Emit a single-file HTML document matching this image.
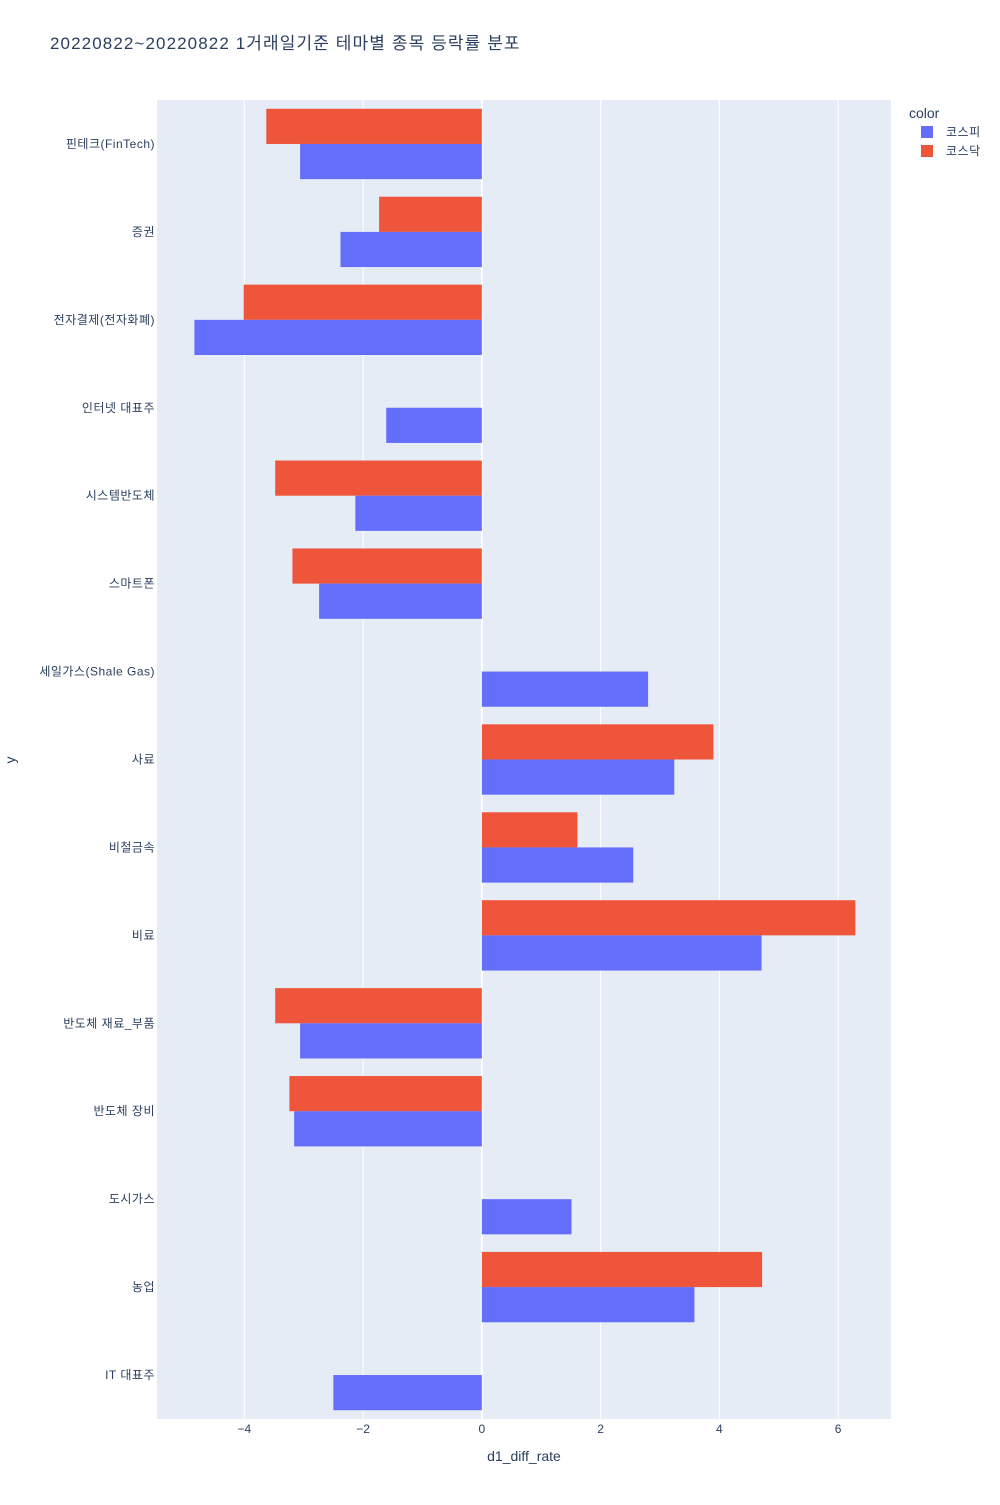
<!DOCTYPE html>
<html><head><meta charset="utf-8">
<style>
body{margin:0;background:#fff;}
svg text{font-family:"Liberation Sans","Noto Sans CJK KR",sans-serif;fill:#2a3f5f;}
</style></head>
<body>
<svg id="chart" width="1000" height="1500" xmlns="http://www.w3.org/2000/svg">
<text x="50" y="49" font-size="17" letter-spacing="1.1">20220822~20220822 1거래일기준 테마별 종목 등락률 분포</text>
<rect x="157" y="100" width="734" height="1319" fill="#e5ecf6"/>
<g id="grid"></g>
<g id="bars"></g>
<g id="yticks"></g>
<g id="xticks"></g>
<text x="524" y="1461" font-size="14" text-anchor="middle">d1_diff_rate</text>
<text x="15" y="760" font-size="14" text-anchor="middle" transform="rotate(-90 15 760)">y</text>
<g>
<text x="909" y="118" font-size="14">color</text>
<g><rect x="921" y="126" width="12" height="12" fill="#636efa"/><text x="946" y="136" font-size="12" letter-spacing="0.5">코스피</text></g>
<g><rect x="921" y="145" width="12" height="12" fill="#EF553B"/><text x="946" y="155" font-size="12" letter-spacing="0.5">코스닥</text></g>
</g>
</svg>
<script>
const categories=["핀테크(FinTech)","증권","전자결제(전자화폐)","인터넷 대표주","시스템반도체","스마트폰","세일가스(Shale Gas)","사료","비철금속","비료","반도체 재료_부품","반도체 장비","도시가스","농업","IT 대표주"];
const kospi=[-3.06,-2.38,-4.84,-1.61,-2.13,-2.74,2.80,3.24,2.55,4.71,-3.06,-3.16,1.51,3.58,-2.50];
const kosdaq=[-3.63,-1.73,-4.01,null,-3.48,-3.19,null,3.90,1.61,6.29,-3.48,-3.24,null,4.72,null];
const xTicks=[-4,-2,0,2,4,6];
const xTickLabels=["−4","−2","0","2","4","6"];
const NS="http://www.w3.org/2000/svg";
const L=157,R=891,T=100,B=1419;
const xMin=-5.47,xMax=6.89;
function xs(v){return L+(v-xMin)/(xMax-xMin)*(R-L);}
const band=(B-T)/categories.length;
function yc(i){return T+band*(i+0.5);}
const bw=band*0.8/2;
function mk(tag,attrs,parent){const e=document.createElementNS(NS,tag);for(const k in attrs)e.setAttribute(k,attrs[k]);document.getElementById(parent).appendChild(e);return e;}
xTicks.forEach((t,i)=>{
 const g=mk('line',{x1:xs(t),x2:xs(t),y1:T,y2:B,stroke:'#fff','stroke-width':t===0?2:1},'grid');
 
 
 const tx=mk('text',{x:xs(t),y:B+14,'font-size':12,'text-anchor':'middle'},'xticks');
 tx.textContent=xTickLabels[i];
 
 
});
function bar(v,y,color,name){
 if(v===null)return;
 const x0=xs(0),x1=xs(v);
 const r=mk('rect',{x:Math.min(x0,x1),y:y,width:Math.abs(x1-x0),height:bw,fill:color},'bars');
 
 
}
categories.forEach((c,i)=>{
 bar(kosdaq[i],yc(i)-bw,'#EF553B','bar-kosdaq');
 bar(kospi[i],yc(i),'#636efa','bar-kospi');
 const t=mk('text',{x:L-2,y:yc(i)+4,'font-size':12,'text-anchor':'end','letter-spacing':0.5},'yticks');
 t.textContent=c;
 
 
});
</script>
</body></html>
